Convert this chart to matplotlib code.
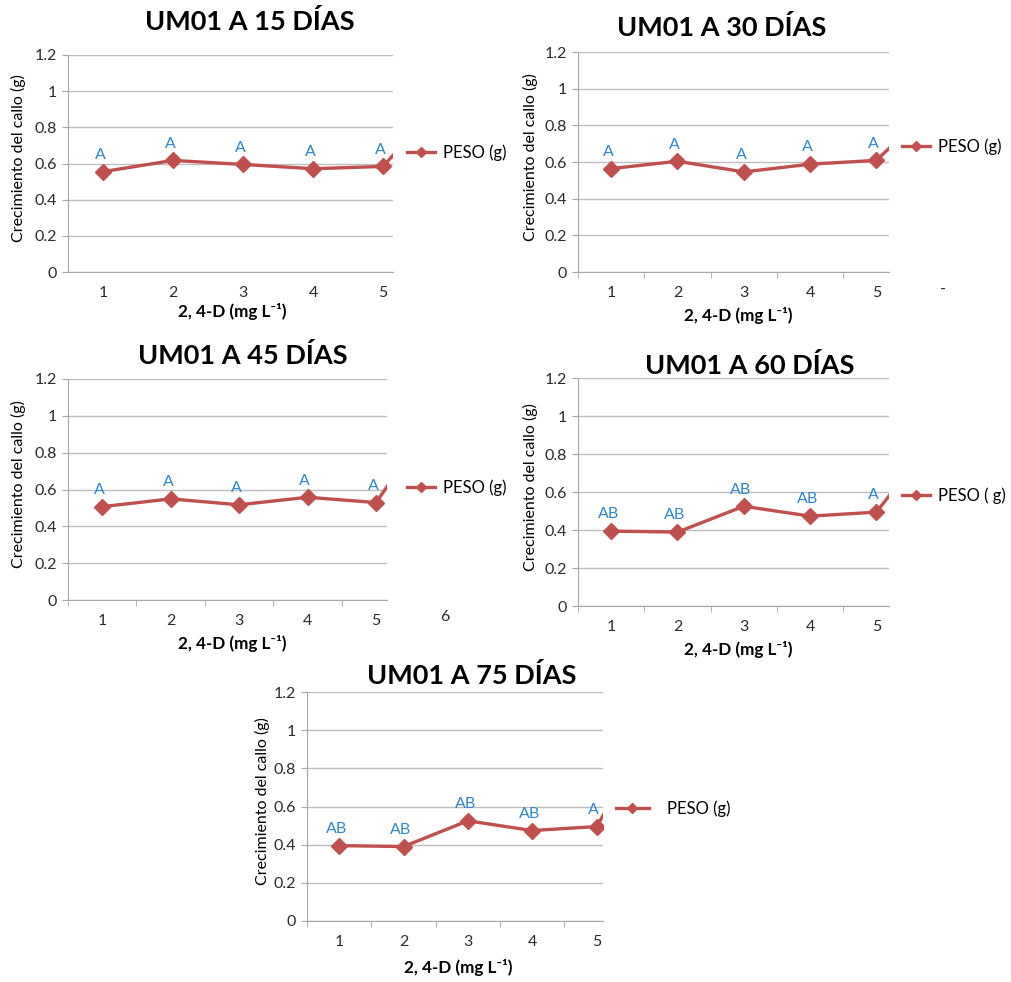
import matplotlib
matplotlib.use("Agg")
from matplotlib import pyplot as plt
from matplotlib.lines import Line2D

plt.rcParams['font.family'] = ['Lato', 'DejaVu Sans']

# data (6th category is cut off at the right edge)
dosis = [1, 2, 3, 4, 5, 6]
peso_15 = [0.555, 0.617, 0.595, 0.571, 0.584, 1.02]
peso_30 = [0.564, 0.604, 0.546, 0.588, 0.609, 0.95]
peso_45 = [0.507, 0.549, 0.517, 0.558, 0.529, 1.07]
peso_60 = [0.394, 0.389, 0.525, 0.473, 0.494, 0.94]
peso_75 = [0.395, 0.390, 0.525, 0.474, 0.495, 1.07]
letras_15 = ["A", "A", "A", "A", "A"]
letras_30 = ["A", "A", "A", "A", "A"]
letras_45 = ["A", "A", "A", "A", "A"]
letras_60 = ["AB", "AB", "AB", "AB", "A"]
letras_75 = ["AB", "AB", "AB", "AB", "A"]
titulos = ["UM01 A 15 DÍAS", "UM01 A 30 DÍAS", "UM01 A 45 DÍAS",
           "UM01 A 60 DÍAS", "UM01 A 75 DÍAS"]
leyendas = ["PESO (g)", "PESO (g)", "PESO (g)", "PESO ( g)", "PESO (g)"]
yticks = [0, 0.2, 0.4, 0.6, 0.8, 1.0, 1.2]
ytick_labels = ["0", "0.2", "0.4", "0.6", "0.8", "1", "1.2"]

W, H = 1011, 982
fig = plt.figure(figsize=(W / 100, H / 100), dpi=100)


def fx(x):
    return x / W


def fy(y):
    return 1 - y / H


RED = "#C0504D"
BLUE = "#2E86D2"
GRID = "#BDBDBD"

# layout per panel: axes box (l, t, r, b), right xlim, title, ylabel x, xlabel, legend
paneles = [
    dict(box=(68, 55, 393, 272), xr=5.14, tit=(250, 22), yl=18, xl=(232, 312),
         leg=(407, 153), hl=1.7, tp=0.45, ticks=False, extra=None),
    dict(box=(578, 52, 889, 272), xr=5.19, tit=(722, 28), yl=530, xl=(738, 315),
         leg=(902, 147), hl=1.7, tp=0.45, ticks=True, extra="-"),
    dict(box=(68, 379, 387, 600), xr=5.16, tit=(243, 355), yl=18, xl=(232, 643),
         leg=(407, 488), hl=1.7, tp=0.45, ticks=True, extra="6"),
    dict(box=(578, 378, 889, 606), xr=5.19, tit=(750, 366), yl=530, xl=(738, 649),
         leg=(902, 496), hl=1.7, tp=0.45, ticks=True, extra=None),
    dict(box=(307, 692, 603, 921), xr=5.10, tit=(472, 676), yl=262, xl=(458, 968),
         leg=(616, 809), hl=1.95, tp=1.1, ticks=True, extra=None),
]
series = [peso_15, peso_30, peso_45, peso_60, peso_75]
letras = [letras_15, letras_30, letras_45, letras_60, letras_75]

for i, p in enumerate(paneles):
    l, t, r, b = p["box"]
    ax = fig.add_axes([fx(l), fy(b), fx(r) - fx(l), fy(t) - fy(b)])
    ax.plot(dosis, series[i], color=RED, lw=2.4, marker="D", ms=8,
            markeredgecolor=RED, zorder=3)
    for x, y, s in zip(dosis, series[i], letras[i]):
        ax.annotate(s, (x, y), xytext=(-2, 7), textcoords="offset points",
                    ha="center", va="bottom", color=BLUE, fontsize=11.5)
    ax.set_xlim(0.5, p["xr"])
    ax.set_ylim(0, 1.2)
    ax.set_yticks(yticks)
    ax.set_yticklabels(ytick_labels)
    ax.set_xticks([1, 2, 3, 4, 5])
    ax.set_xticklabels(["1", "2", "3", "4", "5"])
    if p["ticks"]:
        ax.set_xticks([0.5, 1.5, 2.5, 3.5, 4.5], minor=True)
        ax.tick_params(axis="x", which="minor", length=4, color="#A6A6A6")
    ax.tick_params(axis="x", which="major", length=0, pad=10, labelsize=11.5,
                   labelcolor="#2B2B2B")
    ax.tick_params(axis="y", length=4, color="#A6A6A6", pad=4, labelsize=11.5,
                   labelcolor="#2B2B2B")
    ax.grid(axis="y", color=GRID, lw=1)
    ax.set_axisbelow(True)
    for s in ["top", "right"]:
        ax.spines[s].set_visible(False)
    for s in ["left", "bottom"]:
        ax.spines[s].set_color("#A6A6A6")
    if p["extra"]:
        ax.text(6, -0.095, p["extra"], ha="center", va="center", fontsize=11.5,
                color="#2B2B2B", clip_on=False)

    fig.text(fx(p["tit"][0]), fy(p["tit"][1]), titulos[i], ha="center",
             va="center", fontsize=19.5, fontweight="bold")
    fig.text(fx(p["yl"]), fy((t + b) / 2 - 5), "Crecimiento del callo (g)",
             rotation=90, ha="center", va="center", fontsize=11.5)
    fig.text(fx(p["xl"][0]), fy(p["xl"][1]), "2, 4-D (mg L\u207b\u00b9)",
             ha="center", va="center", fontsize=12.3, fontweight="bold")

    h = Line2D([], [], color=RED, lw=2.4, marker="D", ms=5)
    ax.legend([h], [leyendas[i]], loc="center left",
              bbox_to_anchor=(fx(p["leg"][0]), fy(p["leg"][1])),
              bbox_transform=fig.transFigure, frameon=False, borderpad=0,
              borderaxespad=0, handlelength=p["hl"], handletextpad=p["tp"],
              fontsize=12)

fig.savefig("out.png", dpi=100)
